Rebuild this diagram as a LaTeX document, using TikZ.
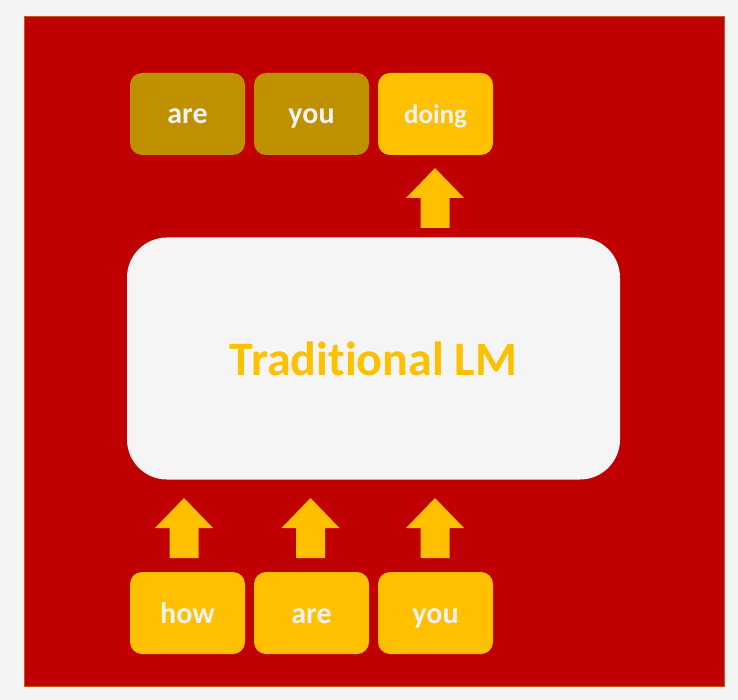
\documentclass[tikz,border=0pt]{standalone}
\usepackage{fontspec}
\setmainfont{Carlito}[Ligatures={NoCommon,NoRare}]
\definecolor{bgc}{HTML}{F4F4F4}
\definecolor{redc}{HTML}{C00000}
\definecolor{edgec}{HTML}{C55A11}
\definecolor{gold}{HTML}{FFC000}
\definecolor{dimgold}{HTML}{BF9000}
\definecolor{txt}{HTML}{F2F2F2}
\definecolor{boxw}{HTML}{F5F5F5}
\tikzset{
  word/.style={fill=gold, rounded corners=12pt, minimum width=115pt, minimum height=82pt,
    inner sep=0pt, text height=22pt, text depth=2pt, text=txt,
    font=\fontsize{30}{32}\selectfont\bfseries},
  dimword/.style={word, fill=dimgold},
  lm/.style={fill=boxw, rounded corners=40pt, minimum width=493pt, minimum height=242pt,
    inner sep=0pt, text height=35pt, text depth=2pt, text=gold,
    font=\fontsize{48}{52}\selectfont\bfseries},
  blockarrow/.style={fill=gold}
}
\newcommand\blockup[2]{% center x, bottom y
  \fill[blockarrow] (#1-14.5,#2) -- (#1+14.5,#2) -- (#1+14.5,#2-30) -- (#1+29,#2-30)
    -- (#1,#2-60) -- (#1-29,#2-30) -- (#1-14.5,#2-30) -- cycle;}
\begin{document}
\begin{tikzpicture}[x=1pt,y=-1pt]
\useasboundingbox (0,0) rectangle (738,700);
\fill[bgc] (0,0) rectangle (738,700);
\fill[redc, draw=edgec, line width=0.8pt] (24,16) rectangle (724,686);
\node[dimword] (o1) at (187.5,114) {are};
\node[dimword] (o2) at (311.5,114) {you};
\node[word, font=\fontsize{27}{29}\selectfont\bfseries] (o3) at (435.5,114) {doing};
\node[lm] (lm) at (373.5,358.5) {Traditional LM};
\node[word] (i1) at (187.5,613) {how};
\node[word] (i2) at (311.5,613) {are};
\node[word] (i3) at (435.5,613) {you};
\blockup{435}{228}
\blockup{184}{558}
\blockup{310.5}{558}
\blockup{435}{558}
\end{tikzpicture}
\end{document}
